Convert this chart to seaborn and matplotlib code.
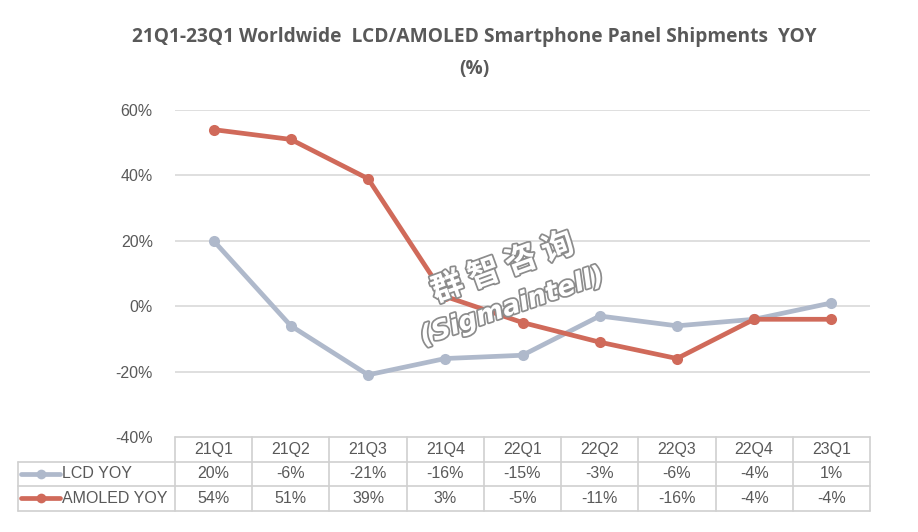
import matplotlib
matplotlib.use("Agg")
import matplotlib.pyplot as plt
import matplotlib.patheffects as pe
import seaborn as sns
import pandas as pd

quarters = ["21Q1", "21Q2", "21Q3", "21Q4", "22Q1", "22Q2", "22Q3", "22Q4", "23Q1"]
lcd_yoy = [20, -6, -21, -16, -15, -3, -6, -4, 1]
amoled_yoy = [54, 51, 39, 3, -5, -11, -16, -4, -4]
lcd_labels = ["20%", "-6%", "-21%", "-16%", "-15%", "-3%", "-6%", "-4%", "1%"]
amoled_labels = ["54%", "51%", "39%", "3%", "-5%", "-11%", "-16%", "-4%", "-4%"]
series_names = ["LCD YOY", "AMOLED YOY"]
yticks = [-40, -20, 0, 20, 40, 60]
title = "21Q1-23Q1 Worldwide  LCD/AMOLED Smartphone Panel Shipments  YOY\n(%)"

LCD_C = "#AFB9CB"
AMO_C = "#D06A5A"
TXT = "#595959"
GRID = "#D9D9D9"

sns.set_theme(style="white")
plt.rcParams["font.family"] = ["Liberation Sans", "DejaVu Sans"]

W, H = 918, 532
fig = plt.figure(figsize=(W / 100, H / 100), dpi=100)
fig.patch.set_facecolor("white")

L, R, T, B = 175, 870, 110, 437
ax = fig.add_axes([L / W, 1 - B / H, (R - L) / W, (B - T) / H])

df = pd.DataFrame({
    "x": list(range(len(quarters))) * 2,
    "v": lcd_yoy + amoled_yoy,
    "s": [series_names[0]] * len(quarters) + [series_names[1]] * len(quarters),
})
sns.lineplot(data=df, x="x", y="v", hue="s", palette=[LCD_C, AMO_C],
             marker="o", markersize=8, markeredgewidth=0, linewidth=3.4,
             legend=False, ax=ax)
ax.set_xlim(-0.5, len(quarters) - 0.5)
ax.set_ylim(-40, 60)
ax.set_yticks(yticks)
ax.set_yticklabels([f"{t}%" for t in yticks], color=TXT, fontsize=11.5)
ax.tick_params(axis="y", length=0, pad=16)
ax.set_xticks([])
ax.set_xlabel("")
ax.set_ylabel("")
for t in yticks:
    if t > -40:
        ax.axhline(t, color=GRID, lw=1.2, zorder=0)
for s in ax.spines.values():
    s.set_visible(False)

# data table
tl = 18
row_h = 24.5
tb_top = B
tb_bot = B + 3 * row_h
tax = fig.add_axes([tl / W, 1 - tb_bot / H, (R - tl) / W, (tb_bot - tb_top) / H])
unit = (R - L) / len(quarters)
x0 = -0.5 - (L - tl) / unit
tax.set_xlim(x0, len(quarters) - 0.5)
tax.set_ylim(3, 0)
tax.axis("off")
lc = "#D0D0D0"
tax.plot([-0.5, len(quarters) - 0.5], [0, 0], color=lc, lw=1.2, clip_on=False)
for yy in [1, 2, 3]:
    tax.plot([x0, len(quarters) - 0.5], [yy, yy], color=lc, lw=1.2, clip_on=False)
for i in range(len(quarters) + 1):
    tax.plot([i - 0.5, i - 0.5], [0, 3], color=lc, lw=1.2, clip_on=False)
tax.plot([x0, x0], [1, 3], color=lc, lw=1.2, clip_on=False)
for i, q in enumerate(quarters):
    tax.text(i, 0.5, q, ha="center", va="center", color=TXT, fontsize=11.5)
    tax.text(i, 1.5, lcd_labels[i], ha="center", va="center", color=TXT, fontsize=11.5)
    tax.text(i, 2.5, amoled_labels[i], ha="center", va="center", color=TXT, fontsize=11.5)
kx0 = x0 + 3 / unit
kx1 = x0 + 42 / unit
for r, (name, c) in enumerate(zip(series_names, [LCD_C, AMO_C])):
    yy = 1.5 + r
    tax.plot([kx0, kx1], [yy, yy], color=c, lw=3.4, clip_on=False)
    tax.plot([(kx0 + kx1) / 2], [yy], "o", color=c, ms=7, mew=0, clip_on=False)
    tax.text(kx1 + 2 / unit, yy, name, ha="left", va="center", color=TXT, fontsize=11.5)

fig.text(474 / W, 1 - 53 / H, title, ha="center", va="center", fontsize=13.8,
         fontweight="bold", color=TXT, family=["Open Sans", "DejaVu Sans"],
         linespacing=1.75)

# watermark
wm = dict(color="white", ha="center", va="center", zorder=10,
          path_effects=[pe.withStroke(linewidth=2.5, foreground="#8C8C8C")])
fig.text(503 / W, 1 - 268 / H, "群 智 咨 询", fontsize=23, rotation=20,
         family=["Noto Sans CJK SC", "DejaVu Sans"], fontweight="bold", **wm)
fig.text(512 / W, 1 - 307 / H, "(Sigmaintell)", fontsize=19, rotation=19,
         family=["DejaVu Sans"], fontweight="bold", fontstyle="italic", **wm)

fig.savefig("out.png", dpi=100, facecolor="white")
